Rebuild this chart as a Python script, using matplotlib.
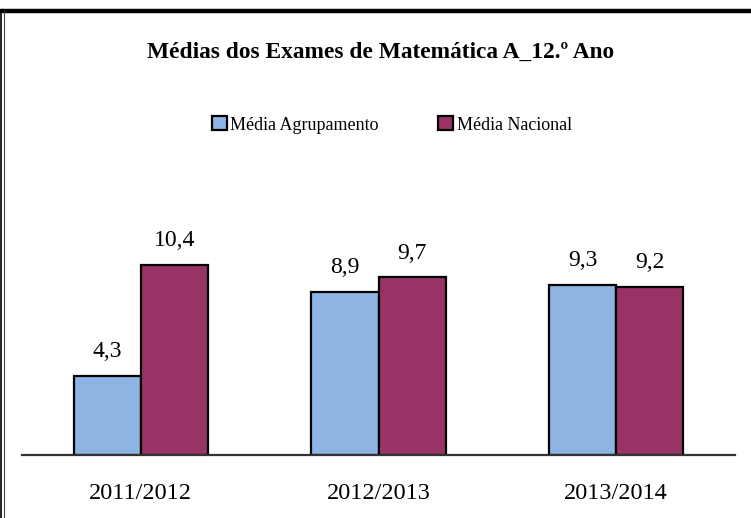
import matplotlib.pyplot as plt
from matplotlib.patches import Patch
from matplotlib.lines import Line2D
import numpy as np

# Data
anos = ["2011/2012", "2012/2013", "2013/2014"]
media_agrupamento = [4.3, 8.9, 9.3]
media_nacional = [10.4, 9.7, 9.2]
series_names = ["Média Agrupamento", "Média Nacional"]

COR_AGRUP = "#8EB4E3"
COR_NAC = "#993366"
FONT = "Liberation Serif"

W, H = 751, 518
fig = plt.figure(figsize=(W / 100, H / 100), dpi=100)

# axes placed in pixel terms: x 22..735, baseline at y=455 from top
ax = fig.add_axes([22 / W, (H - 455) / H, (735 - 22) / W, 255 / H])
x = np.arange(len(anos))
bw = 0.283

b1 = ax.bar(x - bw / 2, media_agrupamento, bw, color=COR_AGRUP,
            edgecolor="black", linewidth=1.6, zorder=2)
b2 = ax.bar(x + bw / 2, media_nacional, bw, color=COR_NAC,
            edgecolor="black", linewidth=1.6, zorder=2)

for bars, vals in [(b1, media_agrupamento), (b2, media_nacional)]:
    for bar, v in zip(bars, vals):
        ax.annotate(f"{v:.1f}".replace(".", ","),
                    xy=(bar.get_x() + bar.get_width() / 2, v),
                    xytext=(0, 10), textcoords="offset points",
                    ha="center", va="bottom", fontsize=17, family=FONT)

ax.set_xlim(-0.5, 2.5)
ax.set_ylim(0, 13.93)
ax.set_yticks([])
ax.set_xticks(x)
ax.set_xticklabels(anos, family=FONT, fontsize=17.5)
ax.tick_params(axis="x", length=0, pad=20)
for s in ["top", "right", "left"]:
    ax.spines[s].set_visible(False)
ax.spines["bottom"].set_color("#333333")
ax.spines["bottom"].set_linewidth(1.6)

# title
fig.text(381 / W, 1 - 52 / H, "Médias dos Exames de Matemática A_12.º Ano",
         ha="center", va="center", fontsize=16.8, fontweight="bold", family=FONT)

# legend
handles = [Patch(facecolor=COR_AGRUP, edgecolor="black", linewidth=1.6),
           Patch(facecolor=COR_NAC, edgecolor="black", linewidth=1.6)]
fig.legend(handles, series_names, loc="center", bbox_to_anchor=(392 / W, 1 - 125 / H),
           ncol=2, frameon=False, prop={"family": FONT, "size": 13},
           handlelength=0.8, handleheight=0.8, handletextpad=0.2, columnspacing=3.3)

# border of the frame
fig.add_artist(Line2D([0, 1], [1 - 11 / H, 1 - 11 / H], color="black", linewidth=3.2,
                      transform=fig.transFigure))
fig.add_artist(Line2D([1 / W, 1 / W], [0, 1 - 11 / H], color="black", linewidth=1.2,
                      transform=fig.transFigure))
fig.add_artist(Line2D([3.5 / W, 3.5 / W], [0, 1 - 11 / H], color="#444444", linewidth=0.8,
                      transform=fig.transFigure))

fig.savefig("out.png", dpi=100)
